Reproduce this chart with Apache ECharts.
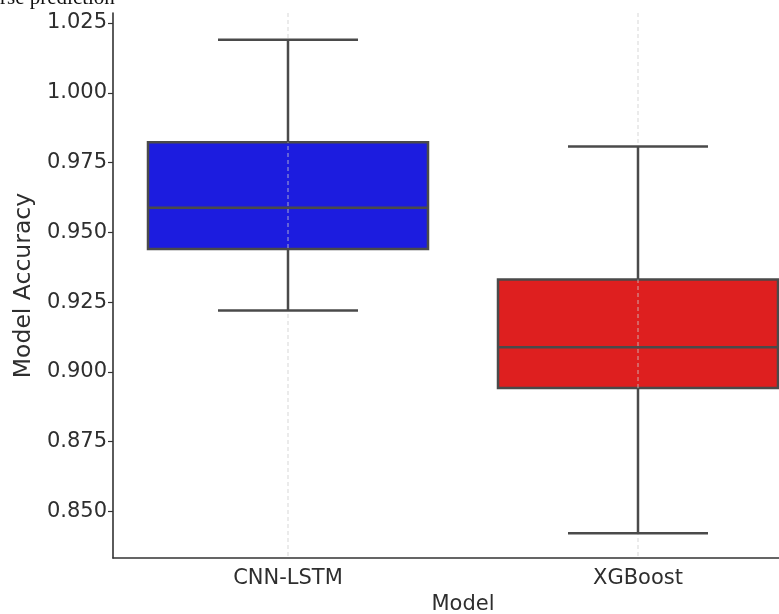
<!DOCTYPE html>
<html>
<head>
<meta charset="utf-8">
<title>Model Accuracy</title>
<script src="https://cdn.jsdelivr.net/npm/echarts@6/dist/echarts.min.js"></script>
<style>
  html, body { margin: 0; padding: 0; background: #ffffff; }
  #chart { width: 779px; height: 614px; }
</style>
</head>
<body>
<div id="chart"></div>
<script>
// Models compared
const models = ['CNN-LSTM', 'XGBoost'];

// Box statistics per model: lower whisker, Q1, median, Q3, upper whisker
const lowerWhisker = [0.9220, 0.8422];
const quartile1    = [0.9440, 0.8942];
const medians      = [0.9588, 0.9088];
const quartile3    = [0.9823, 0.9331];
const upperWhisker = [1.0190, 0.9808];

// Fill colour per model
const boxColors = ['#1c1cdf', '#de1f1f'];

// Accuracy tick labels
const yTicks = [0.850, 0.875, 0.900, 0.925, 0.950, 0.975, 1.000, 1.025];

const boxData = models.map((m, i) => [
  i, lowerWhisker[i], quartile1[i], medians[i], quartile3[i], upperWhisker[i]
]);

const lineColor = '#4a4a4a';
const textColor = '#2e2e2e';
const font = 'DejaVu Sans';

function renderBox(params, api) {
  const i = api.value(0);
  const band = api.size([1, 0])[0];
  const boxW = band * 0.8;
  const capW = band * 0.4;
  const cs = params.coordSys;
  const cx = api.coord([i, api.value(3)])[0];
  const yLow = api.coord([i, api.value(1)])[1];
  const yQ1 = api.coord([i, api.value(2)])[1];
  const yMed = api.coord([i, api.value(3)])[1];
  const yQ3 = api.coord([i, api.value(4)])[1];
  const yHigh = api.coord([i, api.value(5)])[1];
  const stroke = { stroke: lineColor, lineWidth: 2.5 };
  return {
    type: 'group',
    children: [
      {
        type: 'rect',
        shape: { x: cx - boxW / 2, y: yQ3, width: boxW, height: yQ1 - yQ3 },
        style: { fill: boxColors[i], stroke: lineColor, lineWidth: 2.5 }
      },
      // vertical grid line through the category centre, visible over the box
      {
        type: 'line',
        shape: { x1: cx, y1: cs.y, x2: cx, y2: cs.y + cs.height },
        style: { stroke: 'rgba(205,205,205,0.8)', lineWidth: 1, lineDash: [4, 3] }
      },
      { type: 'line', shape: { x1: cx - boxW / 2, y1: yMed, x2: cx + boxW / 2, y2: yMed }, style: stroke },
      { type: 'line', shape: { x1: cx, y1: yQ1, x2: cx, y2: yLow }, style: stroke },
      { type: 'line', shape: { x1: cx, y1: yQ3, x2: cx, y2: yHigh }, style: stroke },
      { type: 'line', shape: { x1: cx - capW / 2, y1: yLow, x2: cx + capW / 2, y2: yLow }, style: stroke },
      { type: 'line', shape: { x1: cx - capW / 2, y1: yHigh, x2: cx + capW / 2, y2: yHigh }, style: stroke }
    ]
  };
}

const chart = echarts.init(document.getElementById('chart'), null, { renderer: 'canvas' });

chart.setOption({
  animation: false,
  backgroundColor: '#ffffff',
  grid: { left: 113, right: -34, top: 13, bottom: 56, outerBoundsMode: 'none', containLabel: false },
  graphic: [
    {
      type: 'text',
      left: 0,
      top: -12,
      style: {
        text: 'rse prediction',
        font: '21px "Liberation Serif"',
        fill: '#111111'
      }
    }
  ],
  xAxis: {
    type: 'category',
    data: models,
    z: 5,
    name: 'Model',
    nameLocation: 'middle',
    nameGap: 36,
    nameTextStyle: { fontFamily: font, fontSize: 21, color: textColor },
    axisLine: { lineStyle: { color: '#333333', width: 1.6 } },
    axisTick: { alignWithLabel: true, length: 5, lineStyle: { color: '#333333', width: 1.2 } },
    axisLabel: { fontFamily: font, fontSize: 21, color: textColor, margin: 10 },
    splitLine: { show: false }
  },
  yAxis: {
    type: 'value',
    min: 0.8333,
    max: 1.0286,
    name: 'Model Accuracy',
    nameLocation: 'middle',
    nameGap: 76,
    nameTextStyle: { fontFamily: font, fontSize: 23.5, color: textColor },
    axisLine: { show: true, lineStyle: { color: '#333333', width: 1.6 } },
    axisTick: { show: true, length: 5, customValues: yTicks, lineStyle: { color: '#333333', width: 1.2 } },
    axisLabel: {
      fontFamily: font,
      fontSize: 21,
      color: textColor,
      margin: 6,
      customValues: yTicks,
      formatter: v => v.toFixed(3)
    },
    splitLine: { show: false }
  },
  series: [
    {
      type: 'custom',
      renderItem: renderBox,
      encode: { x: 0, y: [1, 2, 3, 4, 5] },
      data: boxData,
      z: 2
    }
  ]
});
</script>
</body>
</html>
